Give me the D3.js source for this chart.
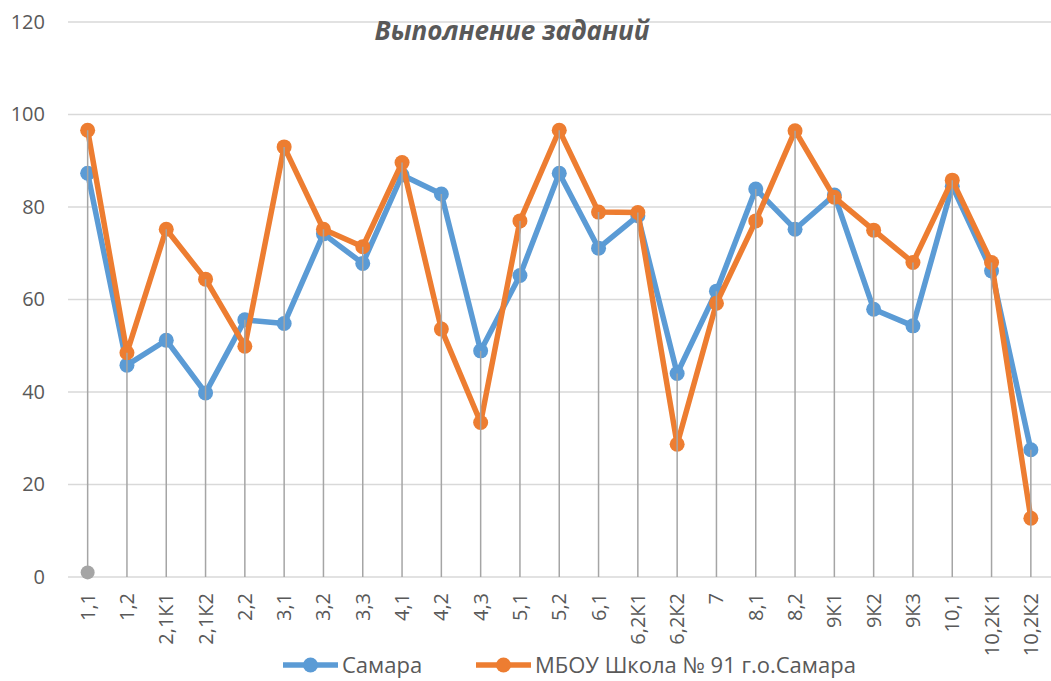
<!DOCTYPE html>
<html><head><meta charset="utf-8">
<script src="https://cdn.jsdelivr.net/npm/d3@7"></script>
<style>
html,body{margin:0;padding:0;background:#fff;}
svg{display:block;}
text{font-family:"Open Sans","Noto Sans",sans-serif;fill:#595959;}
</style></head>
<body>
<svg id="chart" width="1051" height="681"></svg>
<script>
const categories = ["1,1","1,2","2,1К1","2,1К2","2,2","3,1","3,2","3,3","4,1","4,2","4,3","5,1","5,2","6,1","6,2К1","6,2К2","7","8,1","8,2","9К1","9К2","9К3","10,1","10,2К1","10,2К2"];
const samara = [87.3,45.8,51.2,39.8,55.6,54.8,74.2,67.8,86.9,82.8,48.9,65.2,87.3,71.1,78.1,44.0,61.8,83.9,75.2,82.6,57.9,54.3,84.5,66.2,27.5];
const school = [96.6,48.5,75.2,64.4,49.9,93.0,75.2,71.4,89.6,53.6,33.4,77.0,96.6,78.9,78.8,28.7,59.2,77.0,96.5,82.1,75.0,68.0,85.8,68.0,12.7];
const extra = [1];
const yTicks = [0,20,40,60,80,100,120];
const seriesNames = ["Самара","МБОУ Школа № 91 г.о.Самара"];
const title = "Выполнение заданий";

const colors = {blue:"#5B9BD5", orange:"#ED7D31", grey:"#A5A5A5", grid:"#D9D9D9"};

const svg = d3.select("#chart");
const x = d3.scaleBand().domain(categories).range([68, 1050.5]).padding(0);
const cx = c => x(c) + x.bandwidth()/2;
const y = d3.scaleLinear().domain([0,120]).range([577, 22]);

// gridlines
svg.append("g").selectAll("line").data(yTicks).join("line")
  .attr("x1", 68).attr("x2", 1051)
  .attr("y1", d => y(d)).attr("y2", d => y(d))
  .attr("stroke", colors.grid).attr("stroke-width", 1.5);

// y labels
const yAxis = d3.axisLeft(y).tickValues(yTicks).tickSize(0).tickPadding(0);
const ya = svg.append("g").attr("transform", "translate(45,0)").call(yAxis);
ya.select(".domain").remove();
ya.selectAll("text").attr("font-size", 20).style("font-family", '"Open Sans","Noto Sans",sans-serif').attr("fill", "#595959");

// x labels
const xAxis = d3.axisBottom(x).tickSize(0).tickPadding(0);
const xa = svg.append("g").attr("transform", "translate(0,577)").call(xAxis);
xa.select(".domain").remove();
xa.selectAll("text")
  .attr("font-size", 20).style("font-family", '"Open Sans","Noto Sans",sans-serif').attr("fill", "#595959")
  .attr("text-anchor", "end")
  .attr("transform", "translate(0,16) rotate(-90)")
  .attr("x", 0).attr("y", 0).attr("dy", "0.35em");

// title
svg.append("text").attr("x", 512).attr("y", 40)
  .attr("text-anchor", "middle").attr("font-size", 26)
  .attr("font-weight", "bold").attr("font-style", "italic")
  .text(title);

// series lines
const line = d3.line().x((d,i) => cx(categories[i])).y(d => y(d));
const series = [{v: samara, c: colors.blue}, {v: school, c: colors.orange}];
series.forEach(s => {
  svg.append("path").datum(s.v).attr("d", line)
    .attr("fill", "none").attr("stroke", s.c).attr("stroke-width", 5.5)
    .attr("stroke-linejoin", "round");
  svg.append("g").selectAll("circle").data(s.v).join("circle")
    .attr("cx", (d,i) => cx(categories[i])).attr("cy", d => y(d))
    .attr("r", 7.5).attr("fill", s.c);
});
svg.append("g").selectAll("circle").data(extra).join("circle")
  .attr("cx", (d,i) => cx(categories[i])).attr("cy", d => y(d))
  .attr("r", 7).attr("fill", colors.grey);

// drop lines (on top)
const tops = categories.map((c,i) => Math.max(samara[i], school[i], extra[i] ?? -Infinity));
svg.append("g").selectAll("line").data(tops).join("line")
  .attr("x1", (d,i) => cx(categories[i])).attr("x2", (d,i) => cx(categories[i]))
  .attr("y1", d => y(d)).attr("y2", y(0))
  .attr("stroke", colors.grey).attr("stroke-width", 1.5);

// legend
const legend = [{name: seriesNames[0], c: colors.blue, x: 283}, {name: seriesNames[1], c: colors.orange, x: 476}];
const lg = svg.append("g");
legend.forEach(l => {
  const g = lg.append("g").attr("transform", `translate(${l.x},665)`);
  g.append("line").attr("x1", 0).attr("x2", 55).attr("y1", 0).attr("y2", 0)
    .attr("stroke", l.c).attr("stroke-width", 5.5);
  g.append("circle").attr("cx", 27.5).attr("cy", 0).attr("r", 7.5).attr("fill", l.c);
  g.append("text").attr("x", 59).attr("y", 0).attr("dy", "0.35em")
    .attr("font-size", 22).text(l.name);
});
</script>
</body></html>
